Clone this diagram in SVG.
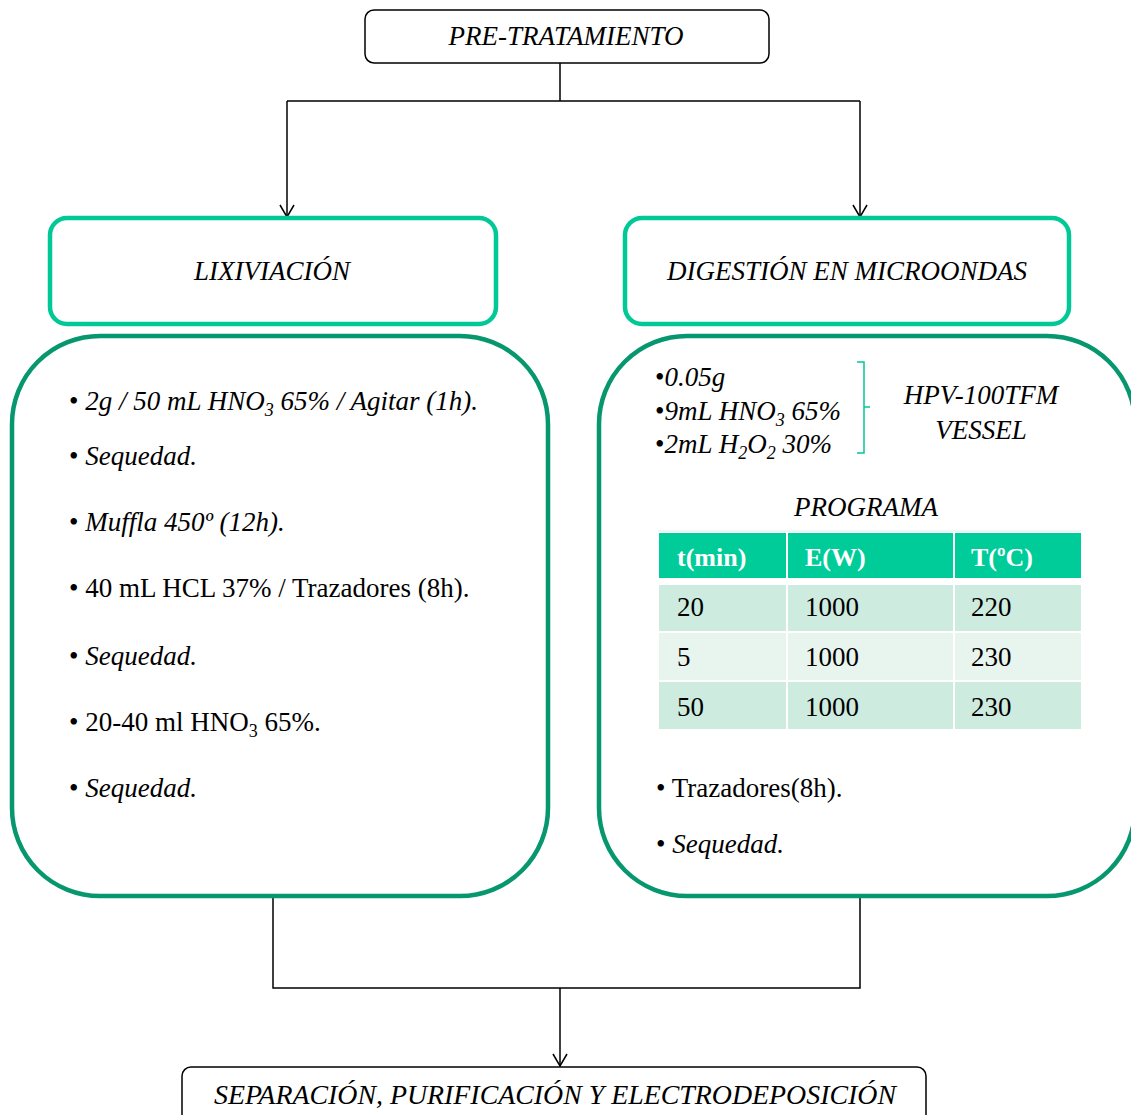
<svg xmlns="http://www.w3.org/2000/svg" width="1131" height="1115" viewBox="0 0 1131 1115">
<defs>
<style>
text{font-family:"Liberation Serif","Times New Roman",serif;font-size:27px;fill:#000}
.i{font-style:italic}
.box{fill:#fff;stroke:#000;stroke-width:1.5}
.lt{fill:#fff;stroke:#00C896;stroke-width:4.5}
.dk{fill:#fff;stroke:#07976F;stroke-width:4.5}
.con{fill:none;stroke:#000;stroke-width:1.5}
.hd{fill:#00CC99}
.r1{fill:#CDEBDF}
.r2{fill:#E8F5EF}
.ht{fill:#fff;font-weight:bold;font-size:26px}
.sub{font-size:18px}
</style>
<marker id="arr" markerWidth="16" markerHeight="16" refX="14" refY="8" orient="auto" markerUnits="userSpaceOnUse" viewBox="0 0 16 16">
<path d="M2,1 L14,8 L2,15" fill="none" stroke="#000" stroke-width="1.5"/>
</marker>
</defs>
<rect width="1131" height="1115" fill="#fff"/>

<g id="connectors">
<path class="con" d="M560,63 V101 M287,101 H860" />
<path class="con" d="M287,101 V217" marker-end="url(#arr)"/>
<path class="con" d="M860,101 V217" marker-end="url(#arr)"/>
<path class="con" d="M273,896 V988 H860 V896"/>
<path class="con" d="M560,988 V1066" marker-end="url(#arr)"/>
</g>

<g id="pretratamiento">
<rect class="box" x="365" y="10" width="404" height="53" rx="9"/>
<text class="i" x="566" y="45" text-anchor="middle">PRE-TRATAMIENTO</text>
</g>

<g id="lixiviacion">
<rect class="lt" x="50" y="218" width="446" height="106" rx="17"/>
<text class="i" x="272" y="280" text-anchor="middle">LIXIVIACIÓN</text>
</g>

<g id="digestion">
<rect class="lt" x="625" y="218" width="444" height="106" rx="17"/>
<text class="i" x="847" y="280" text-anchor="middle">DIGESTIÓN EN MICROONDAS</text>
</g>

<g id="lixiviacion-pasos">
<rect class="dk" x="12" y="336" width="536" height="560" rx="88"/>
<text x="69" y="410">• <tspan class="i">2g / 50 mL HNO<tspan class="sub" dy="6">3</tspan><tspan dy="-6"> 65% / Agitar (1h).</tspan></tspan></text>
<text x="69" y="465">• <tspan class="i">Sequedad.</tspan></text>
<text x="69" y="531">• <tspan class="i">Muffla  450º (12h).</tspan></text>
<text x="69" y="597">• 40 mL HCL 37% / Trazadores (8h).</text>
<text x="69" y="665">• <tspan class="i">Sequedad.</tspan></text>
<text x="69" y="731">• 20-40 ml HNO<tspan class="sub" dy="6">3</tspan><tspan dy="-6"> 65%.</tspan></text>
<text x="69" y="797">• <tspan class="i">Sequedad.</tspan></text>
</g>

<g id="digestion-pasos">
<rect class="dk" x="599" y="336" width="536" height="560" rx="88"/>
<text x="655" y="386">•<tspan class="i">0.05g</tspan></text>
<text x="655" y="420">•<tspan class="i">9mL HNO<tspan class="sub" dy="6">3</tspan><tspan dy="-6"> 65%</tspan></tspan></text>
<text x="655" y="453">•<tspan class="i">2mL H<tspan class="sub" dy="6">2</tspan><tspan dy="-6">O</tspan><tspan class="sub" dy="6">2</tspan><tspan dy="-6"> 30%</tspan></tspan></text>
<path d="M857,362 H864 V453 H857 M864,407 H870" fill="none" stroke="#00C896" stroke-width="1.5"/>
<text class="i" x="981" y="404" text-anchor="middle">HPV-100TFM</text>
<text class="i" x="981" y="439" text-anchor="middle">VESSEL</text>
<text class="i" x="866" y="516" text-anchor="middle">PROGRAMA</text>
<g id="tabla">
<line x1="658" y1="531" x2="1081" y2="531" stroke="#DDEEE8" stroke-width="1"/>
<rect class="hd" x="659" y="533" width="127" height="45"/>
<rect class="hd" x="788" y="533" width="165" height="45"/>
<rect class="hd" x="955" y="533" width="126" height="45"/>
<rect class="r1" x="659" y="585" width="127" height="46"/>
<rect class="r1" x="788" y="585" width="165" height="46"/>
<rect class="r1" x="955" y="585" width="126" height="46"/>
<rect class="r2" x="659" y="633" width="127" height="47"/>
<rect class="r2" x="788" y="633" width="165" height="47"/>
<rect class="r2" x="955" y="633" width="126" height="47"/>
<rect class="r1" x="659" y="682" width="127" height="47"/>
<rect class="r1" x="788" y="682" width="165" height="47"/>
<rect class="r1" x="955" y="682" width="126" height="47"/>
<text class="ht" x="677" y="566">t(min)</text>
<text class="ht" x="805" y="566">E(W)</text>
<text class="ht" x="971" y="566">T(ºC)</text>
<text x="677" y="616">20</text>
<text x="805" y="616">1000</text>
<text x="971" y="616">220</text>
<text x="677" y="666">5</text>
<text x="805" y="666">1000</text>
<text x="971" y="666">230</text>
<text x="677" y="716">50</text>
<text x="805" y="716">1000</text>
<text x="971" y="716">230</text>
</g>
<text x="656" y="797">• Trazadores(8h).</text>
<text x="656" y="853">• <tspan class="i">Sequedad.</tspan></text>
</g>

<g id="separacion">
<rect class="box" x="182" y="1067" width="744" height="60" rx="9"/>
<text class="i" x="555" y="1104" text-anchor="middle" textLength="682" lengthAdjust="spacingAndGlyphs">SEPARACIÓN, PURIFICACIÓN Y ELECTRODEPOSICIÓN</text>
</g>
</svg>
